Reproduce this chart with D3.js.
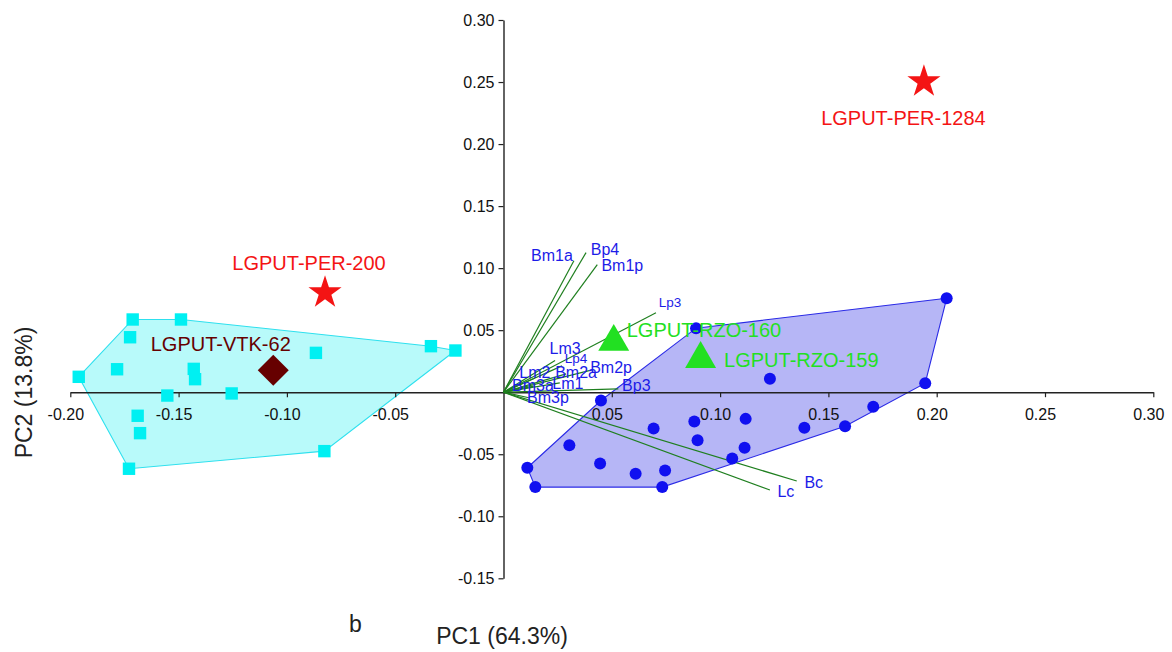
<!DOCTYPE html>
<html>
<head>
<meta charset="utf-8">
<script src="https://cdn.jsdelivr.net/npm/d3@7"></script>
<style>
  html, body { margin: 0; padding: 0; background: #fff; }
  svg { display: block; font-family: "Liberation Sans", Arial, Helvetica, sans-serif; }
</style>
</head>
<body>
<svg id="chart" width="1172" height="652"></svg>
<script>
// ---- PCA ordination: scores, reference specimens and variable loadings ----

const pc1Ticks = [-0.20, -0.15, -0.10, -0.05, 0.05, 0.10, 0.15, 0.20, 0.25, 0.30];
const pc2Ticks = [-0.15, -0.10, -0.05, 0.05, 0.10, 0.15, 0.20, 0.25, 0.30];

// group 1 (cyan squares)
const cyanPC1 = [-0.1712, -0.1489, -0.1724, -0.1961, -0.1784, -0.1430, -0.1424, -0.1552,
                 -0.1255, -0.1689, -0.1678, -0.1729, -0.0827, -0.0866, -0.0335, -0.0222];
const cyanPC2 = [0.0586, 0.0586, 0.0443, 0.0124, 0.0185, 0.0188, 0.0105, -0.0027,
                 -0.0010, -0.0190, -0.0330, -0.0617, -0.0475, 0.0317, 0.0371, 0.0336];

// group 2 (blue circles)
const bluePC1 = [0.2046, 0.1947, 0.0889, 0.1230, 0.0450, 0.1707, 0.1577, 0.1389, 0.1118,
                 0.0881, 0.0693, 0.0896, 0.1113, 0.1056, 0.0304, 0.0446, 0.0610, 0.0746,
                 0.0110, 0.0147, 0.0733];
const bluePC2 = [0.0757, 0.0073, 0.0516, 0.0108, -0.0067, -0.0118, -0.0274, -0.0287, -0.0215,
                 -0.0236, -0.0293, -0.0387, -0.0448, -0.0534, -0.0427, -0.0575, -0.0658, -0.0631,
                 -0.0609, -0.0765, -0.0765];

// named specimens
const specimenNames = ["LGPUT-PER-1284", "LGPUT-PER-200", "LGPUT-VTK-62", "LGPUT-RZO-160", "LGPUT-RZO-159"];
const specimenPC1 = [0.1941, -0.0824, -0.1063, 0.0509, 0.0910];
const specimenPC2 = [0.2503, 0.0802, 0.0177, 0.0406, 0.0268];
const specimenKind = ["star", "star", "diamond", "triangle", "triangle"];

// variable loadings (biplot vectors)
const loadingNames = ["Bm1a", "Bp4", "Bm1p", "Lp3", "Lm3", "Lp4", "Bm2p", "Bm2a",
                      "Lm2", "Lm1", "Bm3a", "Bp3", "Bm3p", "Lc", "Bc"];
const loadingPC1 = [0.0325, 0.0381, 0.0433, 0.0704, 0.0238, 0.0270, 0.0409, 0.0289,
                    0.0145, 0.0260, 0.0145, 0.0530, 0.0122, 0.1230, 0.1354];
const loadingPC2 = [0.1060, 0.1125, 0.1028, 0.0641, 0.0255, 0.0212, 0.0180, 0.0148,
                    0.0115, 0.0075, 0.0051, 0.0027, -0.0047, -0.0788, -0.0716];

// ---- drawing ----
const svg = d3.select("#chart");
const x = d3.scaleLinear().domain([-0.20, 0.30]).range([70.3, 1153.3]);
const y = d3.scaleLinear().domain([-0.15, 0.30]).range([578.3, 20]);
const fmt = v => d3.format(".2f")(v).replace("\u2212", "-");

const col = {
  axis: "#222",
  cyanFill: "#b8fafa", cyanStroke: "#2ee0ee", cyanMark: "#00f0f2",
  blueFill: "#b6b6f6", blueStroke: "#2a2ae6", blueMark: "#1010f0",
  vector: "#1f7f1f", vectorText: "#1c1ce8",
  red: "#f41414", green: "#22e022", darkRed: "#660000"
};

// convex hulls
const cyanPts = cyanPC1.map((v, i) => [x(v), y(cyanPC2[i])]);
const bluePts = bluePC1.map((v, i) => [x(v), y(bluePC2[i])]);
[[cyanPts, col.cyanFill, col.cyanStroke], [bluePts, col.blueFill, col.blueStroke]].forEach(([pts, f, s]) => {
  svg.append("path")
    .attr("d", "M" + d3.polygonHull(pts).join("L") + "Z")
    .attr("fill", f).attr("stroke", s).attr("stroke-width", 1.1);
});

// axes through the origin
const xAxis = svg.append("g")
  .attr("transform", `translate(0,${y(0)})`)
  .call(d3.axisBottom(x).tickValues(pc1Ticks).tickFormat(fmt).tickSize(5).tickSizeOuter(0).tickPadding(11));
const yAxis = svg.append("g")
  .attr("transform", `translate(${x(0)},0)`)
  .call(d3.axisLeft(y).tickValues(pc2Ticks).tickFormat(fmt).tickSize(5).tickSizeOuter(0).tickPadding(4));
[xAxis, yAxis].forEach(g => {
  g.attr("font-family", null).attr("font-size", null);
  g.select(".domain").attr("stroke", col.axis).attr("stroke-width", 1.4);
  g.selectAll(".tick line").attr("stroke", col.axis).attr("stroke-width", 1.2);
  g.selectAll(".tick text").attr("fill", "#111").style("font-size", "16px");
});
xAxis.selectAll(".tick text").attr("dx", -5);

// loading vectors
const labelNudge = {
  Bm1a: [-22, -5], Bp4: [19, -3], Bm1p: [25, 1], Lp3: [14, -10], Lm3: [10, -12],
  Lp4: [14, -7], Bm2p: [19, -2], Bm2a: [10, -1], Lm2: [0, -5], Lm1: [8, 1],
  Bm3a: [-2, 0], Bp3: [18, -3], Bm3p: [18, -1], Lc: [16, 2], Bc: [17, 1]
};
const smallLabels = new Set(["Lp3", "Lp4"]);
const vec = svg.append("g");
loadingNames.forEach((n, i) => {
  vec.append("line")
    .attr("x1", x(0)).attr("y1", y(0))
    .attr("x2", x(loadingPC1[i])).attr("y2", y(loadingPC2[i]))
    .attr("stroke", col.vector).attr("stroke-width", 1.2);
});

// group scores
svg.append("g").selectAll("rect").data(cyanPts).join("rect")
  .attr("x", d => d[0] - 6.2).attr("y", d => d[1] - 6.2)
  .attr("width", 12.4).attr("height", 12.4)
  .attr("fill", col.cyanMark);
svg.append("g").selectAll("circle").data(bluePts).join("circle")
  .attr("cx", d => d[0]).attr("cy", d => d[1]).attr("r", 6)
  .attr("fill", col.blueMark);

// vector labels
loadingNames.forEach((n, i) => {
  const [dx, dy] = labelNudge[n];
  vec.append("text")
    .attr("x", x(loadingPC1[i]) + dx).attr("y", y(loadingPC2[i]) + dy)
    .attr("text-anchor", "middle").attr("dominant-baseline", "central")
    .attr("fill", col.vectorText)
    .style("font-size", smallLabels.has(n) ? "13.5px" : "16px")
    .text(n);
});

// named specimens
const markStyle = {
  star: { sym: d3.symbolStar, size: 340, fill: col.red, rot: 0 },
  diamond: { sym: d3.symbolSquare, size: 480, fill: col.darkRed, rot: 45 },
  triangle: { sym: d3.symbolTriangle, size: 415, fill: col.green, rot: 0 }
};
const specimenLabel = {
  "LGPUT-PER-1284": { dx: -20.5, dy: 43, anchor: "middle", fill: col.red },
  "LGPUT-PER-200": { dx: -16, dy: -22.5, anchor: "middle", fill: col.red },
  "LGPUT-VTK-62": { dx: -52.5, dy: -19.5, anchor: "middle", fill: col.darkRed },
  "LGPUT-RZO-160": { dx: 13, dy: -5, anchor: "start", fill: col.green },
  "LGPUT-RZO-159": { dx: 23.5, dy: 8, anchor: "start", fill: col.green }
};
specimenNames.forEach((n, i) => {
  const m = markStyle[specimenKind[i]];
  const px = x(specimenPC1[i]), py = y(specimenPC2[i]);
  svg.append("path")
    .attr("d", d3.symbol(m.sym, m.size)())
    .attr("transform", `translate(${px},${py}) rotate(${m.rot})`)
    .attr("fill", m.fill);
});
specimenNames.forEach((n, i) => {
  const L = specimenLabel[n];
  svg.append("text")
    .attr("x", x(specimenPC1[i]) + L.dx).attr("y", y(specimenPC2[i]) + L.dy)
    .attr("text-anchor", L.anchor).attr("fill", L.fill)
    .style("font-size", "20px")
    .text(n);
});

// axis titles and panel letter
svg.append("text").attr("x", 502).attr("y", 644).attr("text-anchor", "middle")
  .attr("fill", "#222").style("font-size", "23px").text("PC1 (64.3%)");
svg.append("text").attr("transform", "translate(32,392.5) rotate(-90)").attr("text-anchor", "middle")
  .attr("fill", "#222").style("font-size", "23px").text("PC2 (13.8%)");
svg.append("text").attr("x", 349).attr("y", 632)
  .attr("fill", "#222").style("font-size", "23px").text("b");
</script>
</body>
</html>
